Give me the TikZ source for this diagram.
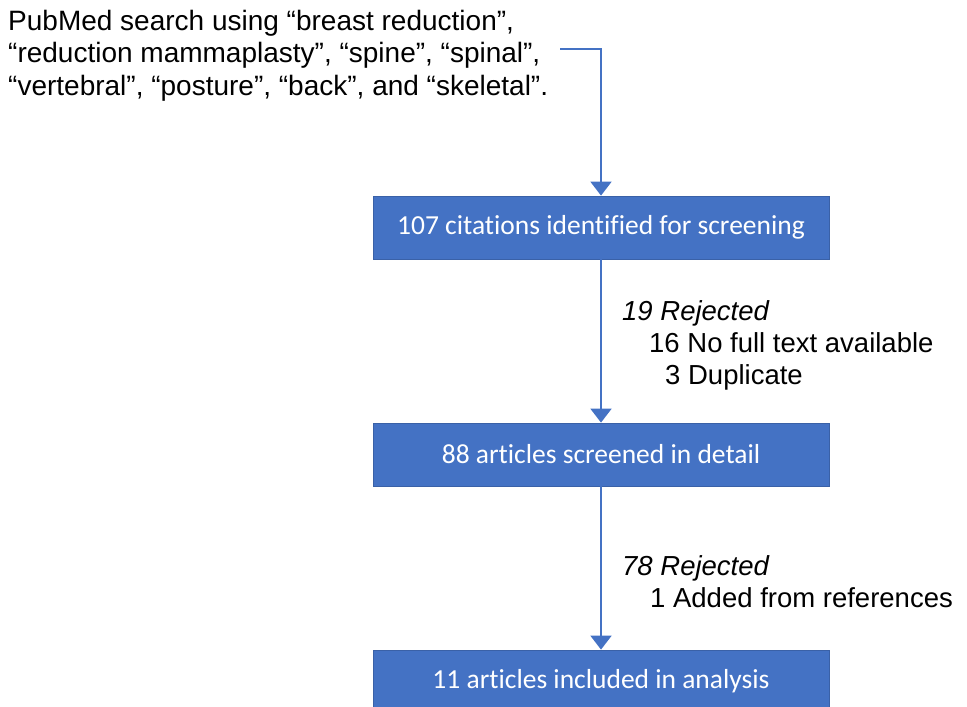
\documentclass[tikz,border=0pt]{standalone}
\usepackage{fontspec}
\setmainfont{Liberation Sans}
\newfontfamily\boxfont[Ligatures={NoCommon}]{Carlito}
\usetikzlibrary{arrows.meta}
\definecolor{flowblue}{HTML}{4472C4}
\begin{document}
\begin{tikzpicture}[x=1pt,y=-1pt,
  stepbox/.style={draw=flowblue!85!black,line width=0.8pt,fill=flowblue,text=white,minimum width=456pt,minimum height=63pt,inner sep=0pt,font=\boxfont\fontsize{27.5}{31}\selectfont},
  flow/.style={draw=flowblue,line width=2pt,-{Triangle[width=21pt,length=14pt]}},
  note/.style={align=left,anchor=north west,inner sep=0pt,font=\fontsize{27.5}{32}\selectfont}]
\useasboundingbox (0,0) rectangle (967,707);
\node[anchor=north west,align=left,inner sep=0pt,font=\fontsize{28}{32.5}\selectfont] (src) at (8,10)
  {PubMed search using “breast reduction”,\\“reduction mammaplasty”, “spine”, “spinal”,\\“vertebral”, “posture”, “back”, and “skeletal”.};
\node[stepbox] (b1) at (601,227.5) {107 citations identified for screening};
\node[stepbox] (b2) at (601,454.5) {88 articles screened in detail};
\node[stepbox] (b3) at (601,681.5) {11 articles included in analysis};
\coordinate (s0) at (560,49);
\draw[flow] (s0) -| (b1.north);
\draw[flow] (b1.south) -- (b2.north);
\draw[flow] (b2.south) -- (b3.north);
\node[note] (r1) at (622,300) {\textit{19 Rejected}\\\hspace*{27pt}16 No full text available\\\hspace*{43pt}3 Duplicate};
\node[note] (r2) at (622,555) {\textit{78 Rejected}\\\hspace*{28pt}1 Added from references};
\end{tikzpicture}
\end{document}
